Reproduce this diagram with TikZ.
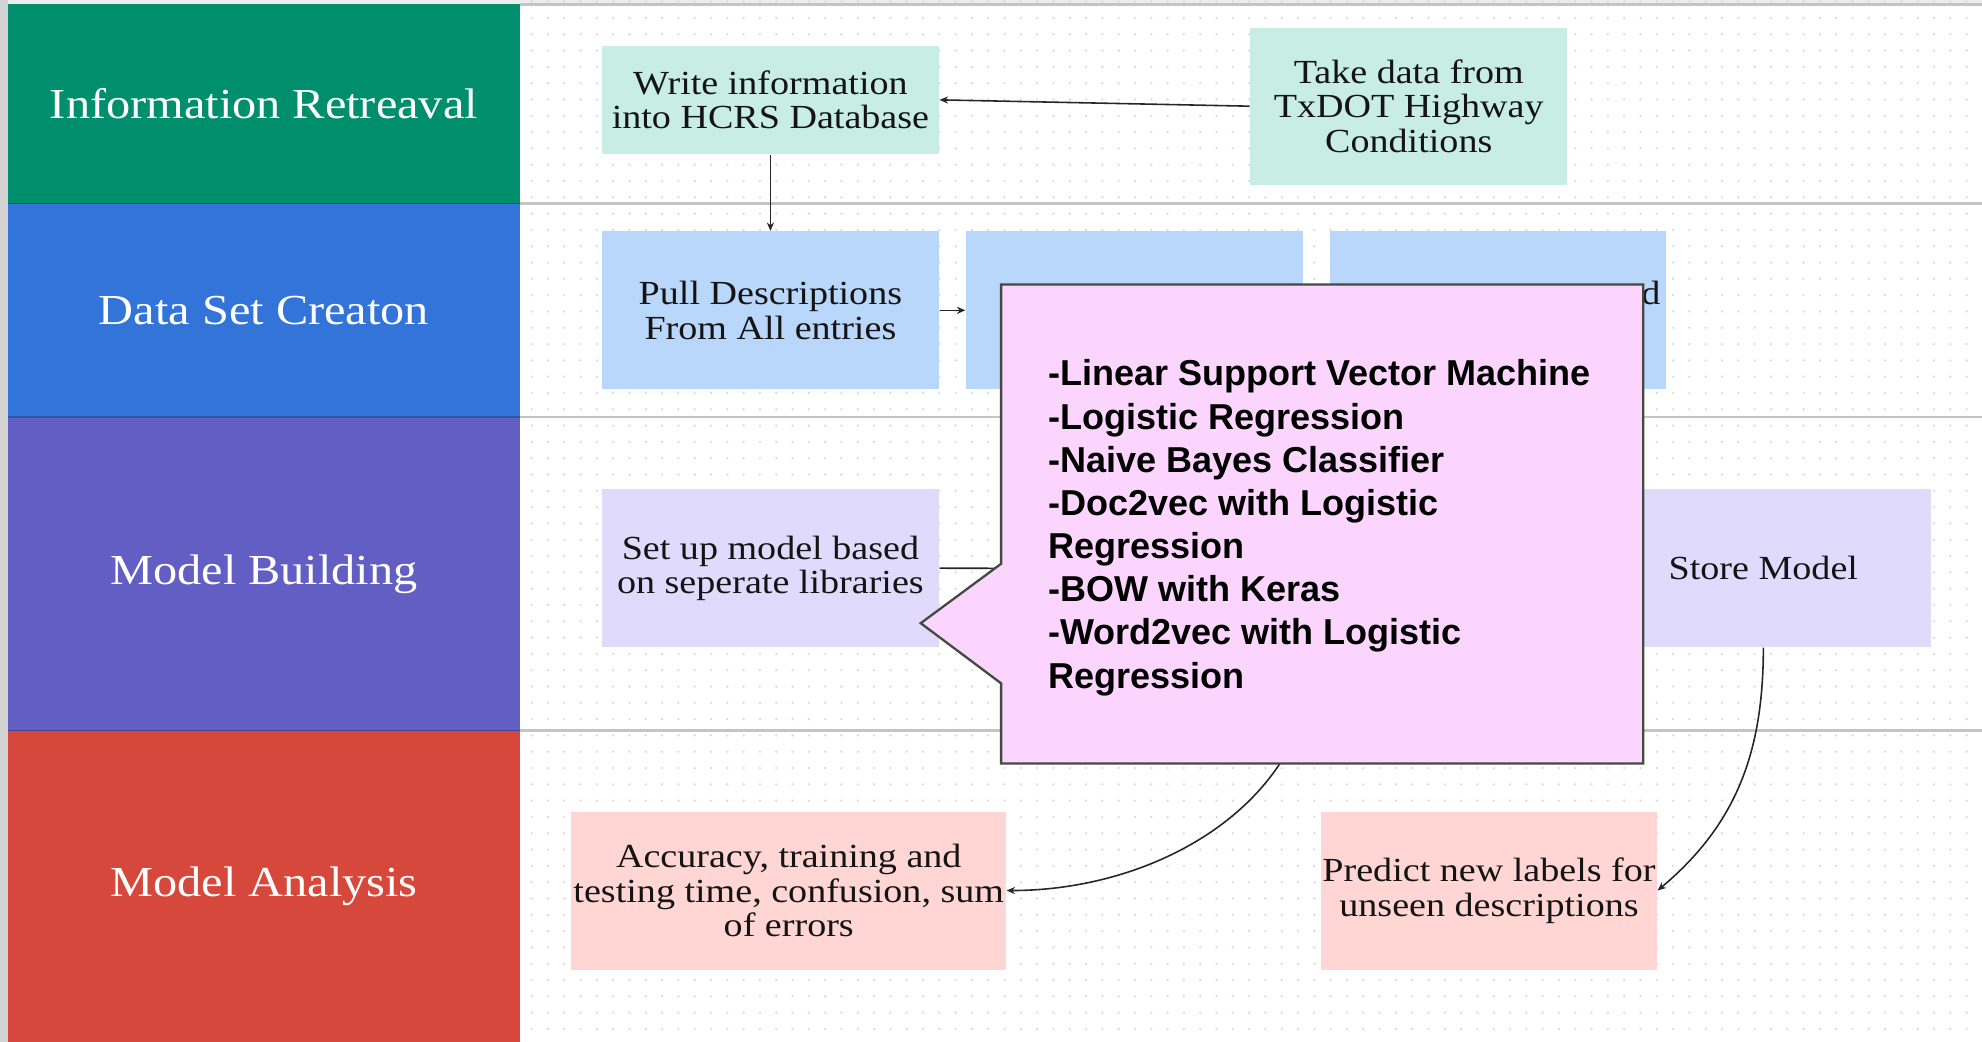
\documentclass[tikz,border=0pt]{standalone}
\usepackage{fontspec}
\setmainfont{Liberation Serif}
\newfontfamily\boxserif[FakeStretch=1.13]{Liberation Serif}
\newfontfamily\callsans{Liberation Sans}
\usetikzlibrary{arrows.meta}
\definecolor{laneA}{HTML}{008F6C}
\definecolor{laneB}{HTML}{3274D8}
\definecolor{laneC}{HTML}{625EC4}
\definecolor{laneD}{HTML}{D6483B}
\definecolor{boxA}{HTML}{C8EDE2}
\definecolor{boxB}{HTML}{B9D6FB}
\definecolor{boxC}{HTML}{E0DAFC}
\definecolor{boxD}{HTML}{FFD6D3}
\definecolor{callfill}{HTML}{FBD5FD}
\definecolor{calldraw}{HTML}{454A40}
\definecolor{dotc}{HTML}{DADADA}
\definecolor{divc}{HTML}{C4C4C4}
\definecolor{topstrip}{HTML}{EDEDED}
\definecolor{leftstrip}{HTML}{D3D3D3}
\begin{document}
\begin{tikzpicture}[x=0.6pt,y=-0.6pt,
  span/.style n args={4}{at={({(#1+#3)/2},{(#2+#4)/2})},
    minimum width={(#3-#1)*0.6pt}, minimum height={(#4-#2)*0.6pt}},
  lanehead/.style={fill=#1, draw=none, inner sep=0pt, text=white,
    font=\boxserif\fontsize{20.3}{22}\selectfont},
  procbox/.style={fill=#1, draw=none, inner sep=0pt, align=center, text=black!92,
    font=\boxserif\fontsize{16}{16.4}\selectfont},
  conn/.style={-{Stealth[length=4pt,width=3.4pt]}, line width=0.75pt, black!85},
  divider/.style={divc, line width=1.2pt},
  headsep/.style={black, opacity=0.25, line width=0.8pt}]
\useasboundingbox (0,0) rectangle (1568,824);
% background
\fill[white] (0,0) rectangle (1568,824);
\fill[topstrip] (0,0) rectangle (1568,3.2);
\fill[leftstrip] (0,0) rectangle (6.3,824);
% dot grid
\foreach \x in {420.6,433.5,...,1568}
  \foreach \y in {1.3,14.2,...,824}
    \fill[dotc] (\x,\y) circle[radius=1.0];
% lane dividers
\draw[divider] (411.4,3.6) -- (1568,3.6);
\draw[divider] (411.4,161) -- (1568,161);
\draw[divider] (411.4,330) -- (1568,330);
\draw[divider] (411.4,578) -- (1568,578);
% lane headers
\node[lanehead=laneA, span={6.3}{3.2}{411.4}{161}] (laneinfo) {Information Retreaval};
\node[lanehead=laneB, span={6.3}{161}{411.4}{330}] (lanedata) {Data Set Creaton};
\node[lanehead=laneC, span={6.3}{330}{411.4}{578}] (lanebuild) {Model Building};
\node[lanehead=laneD, span={6.3}{578}{411.4}{824}] (laneanal) {Model Analysis};
\draw[headsep] (6.3,161) -- (411.4,161);
\draw[headsep] (6.3,330) -- (411.4,330);
\draw[headsep] (6.3,578) -- (411.4,578);
% boxes
\node[procbox=boxA, span={476}{36}{743}{122}] (write) {Write information\\into HCRS Database};
\node[procbox=boxA, span={989}{22}{1240}{146}] (take) {Take data from\\TxDOT Highway\\Conditions};
\node[procbox=boxB, span={476}{183}{743}{308}] (pull) {Pull Descriptions\\From All entries};
\node[procbox=boxB, span={764}{183}{1031}{308}] (clean) {};
\node[procbox=boxB, span={1052}{183}{1318}{308}] (split) {};
\node[font=\boxserif\fontsize{16}{16.4}\selectfont, text=black!92, inner sep=0pt, anchor=base east] (splitd) at (1314,241) {d};
\node[procbox=boxC, span={476}{387}{743}{512}] (setup) {Set up model based\\on seperate libraries};
\node[procbox=boxC, span={1262}{387}{1528}{512}] (store) {Store Model};
\node[procbox=boxD, span={452}{642}{796}{767}] (acc) {Accuracy, training and\\testing time, confusion, sum\\of errors};
\node[procbox=boxD, span={1045}{642}{1311}{767}] (pred) {Predict new labels for\\unseen descriptions};
\coordinate (trainin) at (1000,450);
\coordinate (trainout) at (1040,512);
% connectors
\draw[conn] (take.west) -- (write.east);
\draw[conn] (write.south) -- (pull.north);
\draw[conn] (pull.east) -- (clean.west);
\draw[conn] (setup.east) -- (trainin);
\draw[conn] (trainout) to[out=-90,in=0] (acc.east);
\draw[conn] (store.south) to[out=-90,in=40] (pred.east);
% callout
\coordinate (cA) at (792,225);
\coordinate (cB) at (1300,225);
\coordinate (cC) at (1300,604);
\coordinate (cD) at (792,604);
\coordinate (cE) at (792,540.6);
\coordinate (cTip) at (728.4,493);
\coordinate (cF) at (792,446);
\filldraw[fill=callfill, draw=calldraw, line width=1.1pt, line join=miter]
  (cA) -- (cB) -- (cC) -- (cD) -- (cE) -- (cTip) -- (cF) -- cycle;
\node[anchor=west, align=left, inner sep=0pt,
  font=\callsans\bfseries\fontsize{17.1}{20.5}\selectfont] (calltext) at (829,417.5)
  {-Linear Support Vector Machine\\-Logistic Regression\\-Naive Bayes Classifier\\-Doc2vec with Logistic\\Regression\\-BOW with Keras\\-Word2vec with Logistic\\Regression};
\end{tikzpicture}
\end{document}
